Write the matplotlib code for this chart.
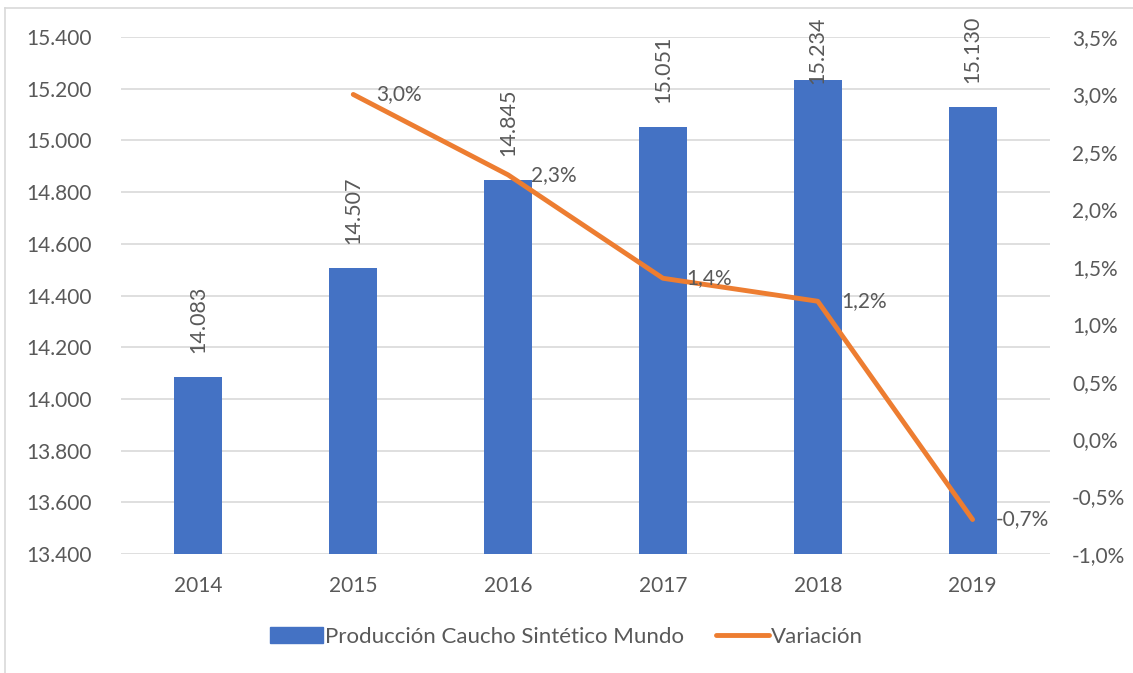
import matplotlib
matplotlib.use("Agg")
import matplotlib.pyplot as plt
from matplotlib.ticker import FuncFormatter, FixedLocator
from matplotlib.lines import Line2D

years = ["2014", "2015", "2016", "2017", "2018", "2019"]
production = [14083, 14507, 14845, 15051, 15234, 15130]
variation_years = ["2015", "2016", "2017", "2018", "2019"]
variation = [3.0, 2.3, 1.4, 1.2, -0.7]

bar_color = "#4472C4"
line_color = "#ED7D31"
text_color = "#595959"
grid_color = "#D9D9D9"

plt.rcParams['font.family'] = ['Lato', 'DejaVu Sans']

W, H = 1133, 673
fig = plt.figure(figsize=(W / 100, H / 100), dpi=100)
ax = fig.add_axes([121/W, 1-554/H, (1050-121)/W, (554-37)/H])
ax2 = ax.twinx()

x = list(range(len(years)))
ax.bar(x, production, width=0.31, color=bar_color, zorder=2)
ax.set_ylim(13400, 15400)
ax.set_xlim(-0.5, len(years) - 0.5)
ax.yaxis.set_major_locator(FixedLocator(range(13400, 15401, 200)))
ax.yaxis.set_major_formatter(FuncFormatter(lambda v, p: f"{int(v):,}".replace(",", ".")))
ax.set_xticks(x)
ax.set_xticklabels(years)
ax.grid(axis='y', color=grid_color, linewidth=1.2, zorder=0)
ax.set_axisbelow(True)

gap_px, label_len_px, top_margin_px = 24, 66, 16
for xi, v in zip(x, production):
    label = f"{v:,}".replace(",", ".")
    bar_top = ax.transData.transform((xi, v))[1]
    if bar_top + gap_px + label_len_px > H - top_margin_px:
        ax.annotate(label, (xi, H - top_margin_px), xycoords=('data', 'figure pixels'),
                    rotation=90, ha='center', va='top', fontsize=15.5, color=text_color,
                    zorder=4)
    else:
        ax.annotate(label, (xi, v), xytext=(0, gap_px * 0.72), textcoords='offset points',
                    rotation=90, ha='center', va='bottom', fontsize=15.5, color=text_color)

vx = [years.index(y) for y in variation_years]
ax2.plot(vx, variation, color=line_color, linewidth=3.5, solid_capstyle='round', zorder=3)
ax2.set_ylim(-1.0, 3.5)
ax2.yaxis.set_major_locator(FixedLocator([i * 0.5 for i in range(-2, 8)]))
ax2.yaxis.set_major_formatter(FuncFormatter(lambda v, p: f"{v:.1f}%".replace(".", ",")))
for xi, v in zip(vx, variation):
    ax2.text(xi + 0.15, v, f"{v:.1f}%".replace(".", ","), ha='left', va='center',
             fontsize=15, color=text_color)

for a in (ax, ax2):
    for s in a.spines.values():
        s.set_visible(False)
    a.tick_params(length=0, labelsize=15, colors=text_color)
ax.tick_params(axis='y', pad=21)
ax.tick_params(axis='x', pad=16)
ax2.tick_params(axis='y', pad=16)

handles = [plt.Rectangle((0, 0), 1, 1, color=bar_color),
           Line2D([0], [0], color=line_color, linewidth=3.5, solid_capstyle='round')]
fig.legend(handles, ["Producción Caucho Sintético Mundo", "Variación"],
           loc='center', bbox_to_anchor=(0.5, 1-637/H), ncol=2, frameon=False,
           fontsize=16, labelcolor=text_color, handlelength=2.4, handletextpad=0.1,
           columnspacing=1.4)

# chart border
fig.add_artist(Line2D([5/W, 5/W], [0, 1-8/H], color=grid_color, linewidth=1.2,
                      transform=fig.transFigure))
fig.add_artist(Line2D([5/W, 1], [1-8/H, 1-8/H], color=grid_color, linewidth=1.2,
                      transform=fig.transFigure))

fig.savefig("out.png", dpi=100)
